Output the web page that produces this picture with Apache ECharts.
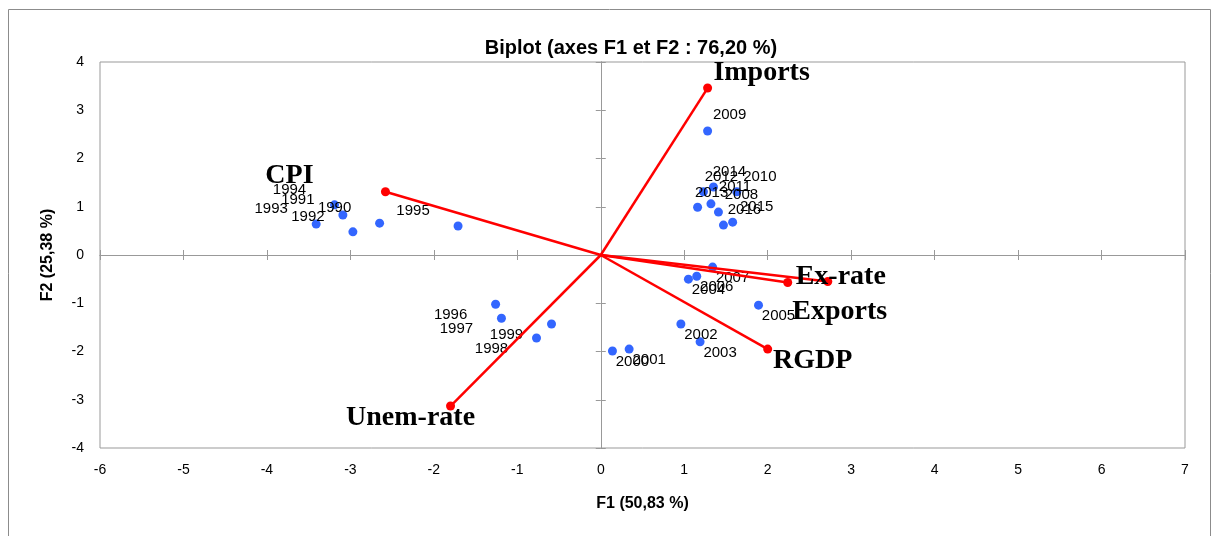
<!DOCTYPE html>
<html>
<head>
<meta charset="utf-8">
<script src="https://cdn.jsdelivr.net/npm/echarts@6/dist/echarts.min.js"></script>
<style>
html,body{margin:0;padding:0;background:#fff;}
#chart{width:1213px;height:536px;}
</style>
</head>
<body>
<div id="chart"></div>
<script>
// ---- data ----
const years = ['1990','1991','1992','1993','1994','1995','1996','1997','1998','1999',
  '2000','2001','2002','2003','2004','2005','2006','2007','2008','2009',
  '2010','2011','2012','2013','2014','2015','2016'];
const yearF1 = [-2.65,-3.09,-2.97,-3.41,-3.19,-1.71,-1.26,-1.19,-0.77,-0.59,
  0.14,0.34,0.96,1.19,1.05,1.89,1.15,1.34,1.41,1.28,
  1.63,1.32,1.23,1.16,1.35,1.58,1.47];
const yearF2 = [0.66,0.83,0.48,0.64,1.04,0.60,-1.02,-1.31,-1.72,-1.43,
  -1.99,-1.95,-1.43,-1.80,-0.50,-1.04,-0.44,-0.25,0.89,2.57,
  1.31,1.06,1.31,0.99,1.41,0.68,0.62];
const variables = ['Imports','CPI','Ex-rate','Exports','RGDP','Unem-rate'];
const varF1 = [1.28,-2.58,2.72,2.24,2.00,-1.80];
const varF2 = [3.46,1.31,-0.55,-0.57,-1.95,-3.13];
const xRange = [-6, 7];
const yRange = [-4, 4];
const titleText = 'Biplot (axes F1 et F2 : 76,20 %)';
const xName = 'F1 (50,83 %)';
const yName = 'F2 (25,38 %)';

// ---- label styling (offsets in px) ----
const yearLabelOffsets = [
  [-45,-15],[-45,-15],[-45,-15],[-45,-15],[-45,-15],[-45,-15],
  [-45,11],[-45,11],[-45,11],[-45,11],
  [20,11],[20,11],[20,11],[20,11],[20,11],[20,11],[20,11],[20,11],
  [23,-17],[22,-16],[23,-15],[24,-17],[18,-15],[14,-14],[16,-15],[24,-15],[21,-15]
];
const varLabelOffsets = [[54,-15],[-96,-16],[13,-5],[52,29],[45,12],[-40,12]];

const GREY = '#999999';
const chart = echarts.init(document.getElementById('chart'), null, {renderer:'canvas'});

const yearData = years.map((y,i)=>({
  value:[yearF1[i], yearF2[i]], name:y,
  label:{offset:yearLabelOffsets[i]}
}));

const varSeries = variables.map((v,i)=>({
  type:'line', name:v, xAxisIndex:0, yAxisIndex:0,
  data:[[0,0],[varF1[i],varF2[i]]],
  symbol:(val,p)=> p.dataIndex===0 ? 'none' : 'circle',
  symbolSize:9, showAllSymbol:true,
  lineStyle:{color:'#ff0000', width:2.5},
  itemStyle:{color:'#ff0000', opacity:1},
  z:3,
  label:{show:true, formatter:(p)=> p.dataIndex===1 ? v : '',
    position:'inside', offset:varLabelOffsets[i],
    fontFamily:'Liberation Serif', fontWeight:'bold', fontSize:28, color:'#000', opacity:1},
  emphasis:{disabled:true}, animation:false
}));

const baseX = {type:'value', min:xRange[0], max:xRange[1], interval:1, gridIndex:0, splitLine:{show:false}};
const baseY = {type:'value', min:yRange[0], max:yRange[1], interval:1, gridIndex:0, splitLine:{show:false}};

const option = {
  backgroundColor:'#ffffff',
  animation:false,
  title:{text:titleText, left:626, top:33, textAlign:'center',
    textStyle:{fontFamily:'Liberation Sans', fontWeight:'bold', fontSize:20, color:'#000'}},
  grid:{left:100, right:28, top:62, bottom:88, show:true, borderColor:GREY, borderWidth:1, backgroundColor:'transparent'},
  xAxis:[
    Object.assign({}, baseX, {position:'bottom', axisLine:{show:false, onZero:false}, axisTick:{show:false},
      axisLabel:{margin:15, fontFamily:'Liberation Sans', fontSize:14, color:'#000'},
      name:xName, nameLocation:'middle', nameGap:48,
      nameTextStyle:{fontFamily:'Liberation Sans', fontWeight:'bold', fontSize:16, color:'#000'}}),
    Object.assign({}, baseX, {position:'bottom', axisLine:{show:true, onZero:true, onZeroAxisIndex:0, lineStyle:{color:GREY,width:1}},
      axisTick:{show:true, length:5, lineStyle:{color:GREY}}, axisLabel:{show:false}}),
    Object.assign({}, baseX, {position:'top', axisLine:{show:true, onZero:true, onZeroAxisIndex:0, lineStyle:{color:GREY,width:1}},
      axisTick:{show:true, length:5, lineStyle:{color:GREY}}, axisLabel:{show:false}})
  ],
  yAxis:[
    Object.assign({}, baseY, {position:'left', axisLine:{show:false, onZero:false}, axisTick:{show:false},
      axisLabel:{margin:16, fontFamily:'Liberation Sans', fontSize:14, color:'#000'},
      name:yName, nameLocation:'middle', nameGap:44, nameRotate:90,
      nameTextStyle:{fontFamily:'Liberation Sans', fontWeight:'bold', fontSize:16, color:'#000'}}),
    Object.assign({}, baseY, {position:'left', axisLine:{show:true, onZero:true, onZeroAxisIndex:0, lineStyle:{color:GREY,width:1}},
      axisTick:{show:true, length:5, lineStyle:{color:GREY}}, axisLabel:{show:false}}),
    Object.assign({}, baseY, {position:'right', axisLine:{show:true, onZero:true, onZeroAxisIndex:0, lineStyle:{color:GREY,width:1}},
      axisTick:{show:true, length:5, lineStyle:{color:GREY}}, axisLabel:{show:false}})
  ],
  graphic:[{type:'rect', shape:{x:8.5, y:9.5, width:1202, height:540}, style:{fill:null, stroke:'#8c8c8c', lineWidth:1}, silent:true, z:-10}],
  series:[
    {type:'scatter', name:'years', xAxisIndex:0, yAxisIndex:0, data:yearData,
      symbol:'circle', symbolSize:9, itemStyle:{color:'#3366ff', opacity:1}, z:2,
      label:{show:true, formatter:'{b}', position:'inside', fontFamily:'Liberation Sans', fontSize:15, color:'#000', opacity:1},
      emphasis:{disabled:true}}
  ].concat(varSeries)
};
chart.setOption(option);
</script>
</body>
</html>
